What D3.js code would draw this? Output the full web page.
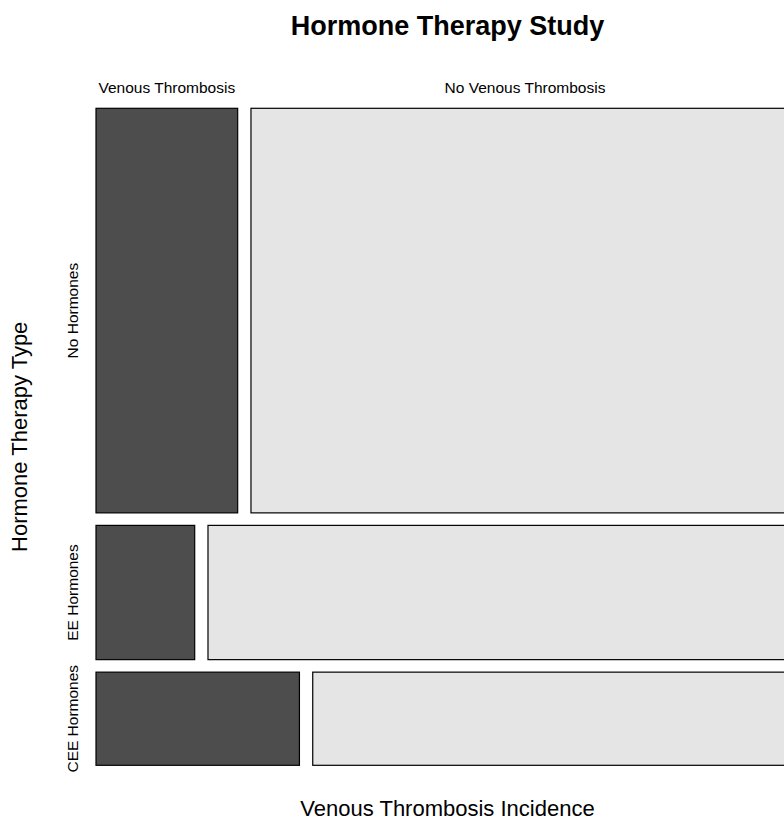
<!DOCTYPE html>
<html>
<head>
<meta charset="utf-8">
<script src="https://cdn.jsdelivr.net/npm/d3@7"></script>
<style>
  body { margin: 0; background: #fff; }
  text { font-family: "Liberation Sans", Arial, sans-serif; fill: #000; }
</style>
</head>
<body>
<div id="chart"></div>
<script>
// hormone therapy x venous thrombosis counts
var rowLabels = ["No Hormones", "EE Hormones", "CEE Hormones"];
var colLabels = ["Venous Thrombosis", "No Venous Thrombosis"];
var thrombosis = [372, 86, 123];
var noThrombosis = [1439, 515, 294];

var width = 784, height = 821;
var plotLeft = 96, plotRight = 799, plotTop = 108.3, plotBottom = 765.3;
var gapY = 12.5, gapX = 13.3;

var svg = d3.select("#chart").append("svg")
    .attr("width", width)
    .attr("height", height);

var rowTotals = rowLabels.map(function(d, i) { return thrombosis[i] + noThrombosis[i]; });
var grand = d3.sum(rowTotals);
var cum = [0];
rowTotals.forEach(function(t, i) { cum.push(cum[i] + t); });

var y = d3.scaleLinear()
    .domain([0, grand])
    .range([plotTop, plotBottom - gapY * (rowLabels.length - 1)]);

var cells = [];
rowLabels.forEach(function(r, i) {
  var x = d3.scaleLinear()
      .domain([0, rowTotals[i]])
      .range([plotLeft, plotRight - gapX]);
  var y0 = y(cum[i]) + i * gapY, y1 = y(cum[i + 1]) + i * gapY;
  cells.push({row: i, col: 0, x0: x(0), x1: x(thrombosis[i]), y0: y0, y1: y1});
  cells.push({row: i, col: 1, x0: x(thrombosis[i]) + gapX, x1: x(rowTotals[i]) + gapX, y0: y0, y1: y1});
});

svg.selectAll("rect.cell").data(cells).enter().append("rect")
    .attr("class", "cell")
    .attr("x", function(d) { return d.x0; })
    .attr("y", function(d) { return d.y0; })
    .attr("width", function(d) { return d.x1 - d.x0; })
    .attr("height", function(d) { return d.y1 - d.y0; })
    .attr("fill", function(d) { return d.col == 0 ? "#4d4d4d" : "#e5e5e5"; })
    .attr("stroke", "#000")
    .attr("stroke-width", 1.2);

// column labels from first row
svg.selectAll("text.col").data(cells.filter(function(d) { return d.row == 0; }))
  .enter().append("text")
    .attr("class", "col")
    .attr("x", function(d) { return (d.x0 + d.x1) / 2; })
    .attr("y", 92.5)
    .attr("text-anchor", "middle")
    .style("font-size", "15.5px")
    .text(function(d) { return colLabels[d.col]; });

svg.selectAll("text.row").data(cells.filter(function(d) { return d.col == 0; }))
  .enter().append("text")
    .attr("class", "row")
    .attr("transform", function(d) { return "translate(78," + (d.y0 + d.y1) / 2 + ") rotate(-90)"; })
    .attr("text-anchor", "middle")
    .style("font-size", "15.5px")
    .text(function(d) { return rowLabels[d.row]; });

svg.append("text")
    .attr("x", (plotLeft + plotRight) / 2)
    .attr("y", 35)
    .attr("text-anchor", "middle")
    .style("font-size", "27px")
    .style("font-weight", "bold")
    .text("Hormone Therapy Study");

svg.append("text")
    .attr("x", (plotLeft + plotRight) / 2)
    .attr("y", 816)
    .attr("text-anchor", "middle")
    .style("font-size", "22px")
    .text("Venous Thrombosis Incidence");

svg.append("text")
    .attr("transform", "translate(27," + (plotTop + plotBottom) / 2 + ") rotate(-90)")
    .attr("text-anchor", "middle")
    .style("font-size", "22px")
    .text("Hormone Therapy Type");
</script>
</body>
</html>
